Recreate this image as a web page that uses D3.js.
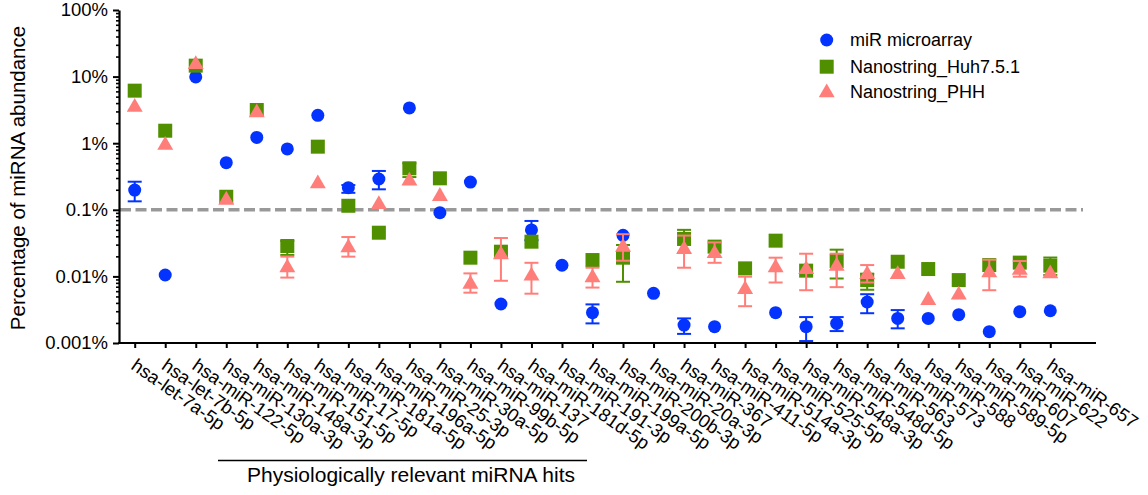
<!DOCTYPE html>
<html><head><meta charset="utf-8">
<script src="https://cdn.jsdelivr.net/npm/d3@7"></script>
<style>
body{margin:0;background:#fff;}
svg text{font-family:"Liberation Sans",Arial,Helvetica,sans-serif;fill:#000;}
</style></head>
<body><svg id="c" width="1148" height="495"></svg>
<script>
const categories = ["hsa-let-7a-5p","hsa-let-7b-5p","hsa-miR-122-5p","hsa-miR-130a-3p","hsa-miR-148a-3p","hsa-miR-151-5p","hsa-miR-17-5p","hsa-miR-181a-5p","hsa-miR-196a-5p","hsa-miR-25-3p","hsa-miR-30a-5p","hsa-miR-99b-5p","hsa-miR-137","hsa-miR-181d-5p","hsa-miR-191-3p","hsa-miR-199a-5p","hsa-miR-200b-3p","hsa-miR-20a-3p","hsa-miR-367","hsa-miR-411-5p","hsa-miR-514a-3p","hsa-miR-525-5p","hsa-miR-548a-3p","hsa-miR-548d-5p","hsa-miR-563","hsa-miR-573","hsa-miR-588","hsa-miR-589-5p","hsa-miR-607","hsa-miR-622","hsa-miR-657"];

const microarray = [0.198,0.0105,9.9,0.51,1.22,0.82,2.62,0.215,0.29,3.38,0.0906,0.261,0.00385,0.0498,0.0147,0.00285,0.0414,0.00557,0.00186,0.00176,null,0.00285,0.00176,0.00197,0.00413,0.00234,0.00234,0.00266,0.00148,0.00295,0.00305];
const microarrayLo = [0.134,null,null,null,null,null,null,0.18,0.203,null,null,null,null,0.035,null,0.00197,null,null,0.00137,null,null,null,0.00107,0.00151,0.0028,0.00166,null,null,null,null,null];
const microarrayHi = [0.264,null,null,null,null,null,null,0.235,0.383,null,null,null,null,0.068,null,0.0038,null,null,0.00234,null,null,null,0.00245,0.00245,0.0054,0.00312,null,null,null,null,null];

const huh = [6.15,1.54,14.6,0.157,3.15,0.0286,0.887,0.115,0.0453,0.42,0.297,0.0191,0.0235,0.0332,null,0.0176,0.0191,null,0.0365,0.028,0.0132,0.0344,0.0122,0.017,0.0088,0.0166,0.0129,0.0088,0.0148,0.0161,0.0145];
const huhLo = [null,null,null,null,null,0.021,null,null,null,0.31,null,null,null,null,null,null,0.0083,null,0.0225,null,null,null,null,0.0093,0.0063,null,null,null,null,null,0.0105];
const huhHi = [null,null,null,null,null,0.034,null,null,null,0.5,null,null,null,null,null,null,0.0296,null,0.05,null,null,null,null,0.0252,0.011,null,null,null,null,null,0.0192];

const phh = [3.6,0.97,15.8,0.145,2.97,0.014,0.255,0.028,0.125,0.28,0.165,0.0079,0.022,0.0105,null,0.0099,0.0285,null,0.0264,0.0229,0.0066,0.014,0.0132,0.0148,0.0111,0.0111,0.00453,0.00544,0.0118,0.0128,0.0114];
const phhLo = [null,null,null,null,null,0.0096,null,0.0198,null,null,null,0.0057,0.0086,0.0055,null,0.0068,0.0172,null,0.0135,0.016,0.00357,0.0081,0.0062,0.0069,0.0081,null,null,null,0.0062,0.0099,null];
const phhHi = [null,null,null,null,null,0.0198,null,0.039,null,null,null,0.0111,0.0377,0.016,null,0.0135,0.043,null,0.041,0.0324,0.0099,0.0191,0.0219,0.0219,0.0148,null,null,null,0.0178,0.017,null];

const yTickValues = [0.001,0.01,0.1,1,10,100];
const yTickLabels = ["0.001%","0.01%","0.1%","1%","10%","100%"];
const threshold = 0.1;
const seriesNames = ["miR microarray","Nanostring_Huh7.5.1","Nanostring_PHH"];
const colors = ["#0433FF","#4F8F00","#FF7E79"];
const yTitle = "Percentage of miRNA abundance";
const groupLabel = "Physiologically relevant miRNA hits";

const svg = d3.select("#c");
const x = d3.scalePoint().domain(categories).range([134.7, 1050.3]);
const y = d3.scaleLog().domain([0.001, 100]).range([343, 10]);
const axisLeftX = 119, axisRightX = 1096;

// threshold line
svg.append("line").attr("x1", axisLeftX+1).attr("x2", 1083)
  .attr("y1", y(threshold)).attr("y2", y(threshold))
  .attr("stroke", "#999").attr("stroke-width", 3.5).attr("stroke-dasharray", "11,4.5");

// y axis minor ticks
const minor = [];
for (let e = -3; e < 2; e++) for (let m = 2; m <= 9; m++) minor.push(m * Math.pow(10, e));
const gyMinor = svg.append("g").attr("transform", `translate(${axisLeftX},0)`)
  .call(d3.axisLeft(y).tickValues(minor).tickSize(3).tickFormat(""));
gyMinor.select(".domain").remove();
gyMinor.selectAll("line").attr("stroke-width", 1.6);

const gy = svg.append("g").attr("transform", `translate(${axisLeftX},0)`)
  .call(d3.axisLeft(y).tickValues(yTickValues).tickSize(6).tickPadding(5)
    .tickFormat((d, i) => yTickLabels[i]).tickSizeOuter(0));
gy.select(".domain").attr("stroke-width", 2.2);
gy.selectAll(".tick line").attr("stroke-width", 2);
gy.selectAll(".tick text").attr("font-size", 18.5).attr("font-family", "Liberation Sans, Arial, sans-serif");

// x axis
const gx = svg.append("g").attr("transform", `translate(0,${y(0.001)})`)
  .call(d3.axisBottom(x).tickSize(5).tickFormat(""));
gx.select(".domain").remove();
gx.selectAll(".tick line").attr("stroke-width", 2);
svg.append("line").attr("x1", axisLeftX - 1).attr("x2", axisRightX)
  .attr("y1", y(0.001)).attr("y2", y(0.001)).attr("stroke", "#000").attr("stroke-width", 2.2);

svg.append("g").selectAll("text").data(categories).join("text")
  .attr("transform", d => `translate(${x(d) - 1},${y(0.001) + 20}) rotate(35)`)
  .attr("font-size", 18.5).attr("dy", "0.35em").text(d => d);

// group annotation
svg.append("line").attr("x1", 218).attr("x2", 587).attr("y1", 460.5).attr("y2", 460.5)
  .attr("stroke", "#000").attr("stroke-width", 1.5);
svg.append("text").attr("x", 411).attr("y", 482).attr("text-anchor", "middle")
  .attr("font-size", 21).text(groupLabel);

// y title
svg.append("text").attr("transform", "translate(24.5,178) rotate(-90)")
  .attr("text-anchor", "middle").attr("font-size", 20.5).text(yTitle);

// series
const series = [
  {v: microarray, lo: microarrayLo, hi: microarrayHi},
  {v: huh, lo: huhLo, hi: huhHi},
  {v: phh, lo: phhLo, hi: phhHi}
];
const sym = [d3.symbolCircle, d3.symbolSquare, d3.symbolTriangle];
const symSize = [133, 196, 110];
series.forEach((s, si) => {
  const g = svg.append("g");
  const pts = categories.map((c, i) => ({c, v: s.v[i], lo: s.lo[i], hi: s.hi[i]}));
  const eb = pts.filter(p => p.lo != null && p.v != null);
  g.selectAll(".ev").data(eb).join("line")
    .attr("x1", d => x(d.c)).attr("x2", d => x(d.c))
    .attr("y1", d => y(d.lo)).attr("y2", d => y(d.hi))
    .attr("stroke", colors[si]).attr("stroke-width", 2);
  ["lo", "hi"].forEach(k => {
    g.selectAll(".cap" + k).data(eb).join("line")
      .attr("x1", d => x(d.c) - 7).attr("x2", d => x(d.c) + 7)
      .attr("y1", d => y(d[k])).attr("y2", d => y(d[k]))
      .attr("stroke", colors[si]).attr("stroke-width", 2);
  });
  g.selectAll("path").data(pts.filter(p => p.v != null)).join("path")
    .attr("transform", d => `translate(${x(d.c)},${y(d.v) + (si === 2 ? 1 : 0)})`)
    .attr("d", d3.symbol().type(sym[si]).size(symSize[si]))
    .attr("fill", colors[si]);
});

// legend
const leg = svg.append("g");
const legY = [40, 66.7, 91.7];
seriesNames.forEach((n, i) => {
  leg.append("path").attr("transform", `translate(826.7,${legY[i] + (i === 2 ? 1 : 0)})`)
    .attr("d", d3.symbol().type(sym[i]).size(symSize[i])).attr("fill", colors[i]);
  leg.append("text").attr("x", 850).attr("y", legY[i]).attr("dy", "0.36em")
    .attr("font-size", 18).text(n);
});
</script></body></html>
